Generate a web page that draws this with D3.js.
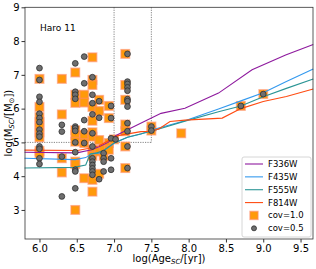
<!DOCTYPE html>
<html><head><meta charset="utf-8">
<script src="https://cdn.jsdelivr.net/npm/d3@7"></script>
<style>body{margin:0;background:#fff}svg{font-family:"DejaVu Sans",sans-serif}</style>
</head><body>
<svg id="c" width="316" height="269"></svg>
<script>
// ---- data ----
const xTicks = [6.0, 6.5, 7.0, 7.5, 8.0, 8.5, 9.0, 9.5];
const yTicks = [3, 4, 5, 6, 7, 8, 9];
const filters = ["F336W", "F435W", "F555W", "F814W"];
const f336Age  = [5.8, 6.5, 6.7, 6.82, 6.92, 7.02, 7.2, 7.5, 7.63, 7.95, 8.4, 8.85, 9.3, 9.67];
const f336Mass = [4.71, 4.69, 4.78, 4.89, 5.0, 5.2, 5.4, 5.72, 5.86, 6.01, 6.46, 7.15, 7.59, 7.9];
const f435Age  = [5.8, 6.48, 6.62, 6.7, 6.82, 6.91, 7.02, 7.18, 7.36, 7.5, 7.95, 8.4, 8.7, 9.0, 9.31, 9.67];
const f435Mass = [4.53, 4.49, 4.55, 4.66, 4.69, 4.83, 5.0, 5.15, 5.25, 5.37, 5.64, 5.99, 6.23, 6.47, 6.8, 7.17];
const f555Age  = [5.8, 6.46, 6.62, 6.68, 6.77, 6.86, 7.0, 7.18, 7.5, 7.95, 8.4, 8.7, 9.0, 9.31, 9.67];
const f555Mass = [4.24, 4.26, 4.33, 4.66, 4.69, 4.76, 4.98, 5.15, 5.33, 5.63, 5.91, 6.08, 6.35, 6.6, 6.88];
const f814Age  = [5.8, 6.51, 6.65, 6.8, 7.05, 7.36, 7.5, 7.6, 7.75, 7.95, 8.45, 8.7, 9.0, 9.31, 9.67];
const f814Mass = [4.77, 4.76, 4.82, 4.9, 5.2, 5.32, 5.33, 5.4, 5.62, 5.66, 5.72, 6.0, 6.21, 6.36, 6.58];
// cov=1.0 clusters (age, mass)
const cov10Age = [6.0,6.0,6.0,6.0,6.0,6.0,6.0,6.0,6.0, 6.3,6.3,6.3,6.3, 6.48,6.48,6.48,6.48,6.48,6.48,6.48,6.48,6.48, 6.6,6.6,6.6,6.6,6.6, 6.71,6.71,6.71,6.71,6.71,6.71,6.71,6.71,6.71,6.71,6.71, 6.8,6.8,6.8,6.8,6.8, 6.86,6.86, 6.93,6.93,6.93,6.93, 7.0, 7.15,7.15,7.15,7.15,7.15,7.15,7.15, 7.5,7.5, 7.9, 8.7, 9.0];
const cov10Mass = [6.88,6.05,5.75,5.6,5.45,5.3,5.15,4.75,4.68, 6.88,5.83,4.53,4.11, 7.07,6.41,6.17,5.36,5.22,5.02,4.43,4.36,3.0, 6.41,6.18,5.22,4.98,3.94, 7.52,6.85,6.70,6.05,5.64,5.3,5.17,4.78,4.6,3.89,3.54, 6.26,5.93,5.07,4.73,4.07, 4.83,4.6, 6.08,5.72,4.98,4.78, 5.09, 7.62,6.70,6.26,5.53,5.33,4.88,4.24, 5.47,5.35, 5.27, 6.08, 6.43];
// cov=0.5 clusters (age, mass)
const cov05Age = [6.0,6.0,6.0,6.0,6.0,6.0,6.0,6.0,6.0,6.0,6.0,6.0,6.0,6.0, 6.3,6.3,6.3,6.3, 6.48,6.48,6.48,6.48,6.48,6.48,6.48,6.48,6.48,6.48,6.48,6.48, 6.6,6.6,6.6,6.6,6.6, 6.71,6.71,6.71,6.71,6.71,6.71,6.71,6.71,6.71,6.71,6.71,6.71, 6.8,6.8,6.8, 6.86,6.86,6.86,6.86, 6.96,6.96,6.96,6.96,6.96, 7.02, 7.18,7.18,7.18,7.18,7.18,7.18,7.18,7.18,7.18,7.18,7.18,7.18, 7.5,7.5, 8.7, 9.0];
const cov05Mass = [7.2,6.85,6.35,6.2,5.85,5.72,5.6,5.38,5.26,5.17,4.88,4.81,4.53,4.36, 5.52,5.32,4.58,3.40, 7.34,6.5,6.41,6.29,5.47,5.42,5.34,5.0,4.71,4.19,4.14,3.64, 7.54,6.75,5.66,5.33,4.98, 6.93,6.41,6.16,5.83,5.27,4.88,4.53,4.43,4.33,4.23,4.14,4.04, 6.22,5.73,3.91, 4.68,4.53,4.43,4.14, 6.08,5.72,5.12,4.53,4.19, 5.09, 7.62,6.80,6.73,6.63,6.53,6.28,6.22,6.06,5.57,5.33,4.88,4.24, 5.47,5.35, 6.08, 6.43];
const boxAge = [7.0, 7.5];
const boxMass = 5;

// ---- layout ----
const svg = d3.select("#c");
const L = 25, R = 313, T = 7.3, B = 239;
const x = d3.scaleLinear().domain([5.806, 9.667]).range([L, R]);
const y = d3.scaleLinear().domain([2.14, 9]).range([B, T]);
const colors = {F336W: "#8e1a9e", F435W: "#3399ee", F555W: "#2b9595", F814W: "#ff4c12"};
const series = {F336W: [f336Age, f336Mass], F435W: [f435Age, f435Mass], F555W: [f555Age, f555Mass], F814W: [f814Age, f814Mass]};

// dotted box
const dot = svg.append("g").attr("stroke", "#777").attr("stroke-width", 0.9).attr("stroke-dasharray", "1.2,1.2").attr("fill", "none");
boxAge.forEach(a => dot.append("line").attr("x1", x(a)).attr("x2", x(a)).attr("y1", y(9)).attr("y2", y(boxMass)));
dot.append("line").attr("x1", x.range()[0]).attr("x2", x(boxAge[1])).attr("y1", y(boxMass)).attr("y2", y(boxMass));

// squares
const s = 8.5;
svg.append("g").selectAll("rect").data(cov10Age.map((a, i) => [a, cov10Mass[i]])).join("rect")
  .attr("x", d => x(d[0]) - s / 2).attr("y", d => y(d[1]) - s / 2).attr("width", s).attr("height", s)
  .attr("fill", "#ff9a0a").attr("stroke", "#ff8a60").attr("stroke-opacity", 0.6).attr("stroke-width", 1.5);

// lines
const line = d3.line().x(d => x(d[0])).y(d => y(d[1]));
filters.forEach(f => {
  const [a, m] = series[f];
  svg.append("path").datum(a.map((v, i) => [v, m[i]])).attr("d", line)
    .attr("fill", "none").attr("stroke", colors[f]).attr("stroke-width", 1.1);
});

// circles
svg.append("g").selectAll("circle").data(cov05Age.map((a, i) => [a, cov05Mass[i]])).join("circle")
  .attr("cx", d => x(d[0])).attr("cy", d => y(d[1])).attr("r", 2.9)
  .attr("fill", "#6e6e6e").attr("stroke", "#2e2e2e").attr("stroke-width", 0.8);

// frame
svg.append("rect").attr("x", L).attr("y", T).attr("width", R - L).attr("height", B - T)
  .attr("fill", "none").attr("stroke", "#333").attr("stroke-width", 0.8);

// axes
const xa = svg.append("g").attr("transform", `translate(0,${B})`)
  .call(d3.axisBottom(x).tickValues(xTicks).tickFormat(d3.format(".1f")).tickSize(3.5).tickPadding(2));
const ya = svg.append("g").attr("transform", `translate(${L},0)`)
  .call(d3.axisLeft(y).tickValues(yTicks).tickFormat(d3.format("d")).tickSize(3.5).tickPadding(2));
[xa, ya].forEach(g => {
  g.select(".domain").remove();
  g.selectAll("text").attr("font-size", 10).attr("fill", "#000").attr("font-family", "DejaVu Sans");
  g.selectAll("line").attr("stroke", "#333");
});

// labels
const xl = svg.append("text").attr("x", (L + R) / 2).attr("y", 262).attr("text-anchor", "middle").attr("font-size", 10);
xl.append("tspan").text("log(Age");
xl.append("tspan").text("SC").attr("font-size", 7).attr("font-style", "italic").attr("dy", 2);
xl.append("tspan").text("/[yr])").attr("dy", -2);
const yl = svg.append("text").attr("transform", `translate(12,${(T + B) / 2}) rotate(-90)`).attr("text-anchor", "middle").attr("font-size", 10);
yl.append("tspan").text("log(M");
yl.append("tspan").text("SC").attr("font-size", 7).attr("font-style", "italic").attr("dy", 2);
yl.append("tspan").text("/[M").attr("dy", -2);
yl.append("tspan").text("⊙").attr("font-size", 7).attr("dy", 2);
yl.append("tspan").text("])").attr("dy", -2);

svg.append("text").attr("x", 40).attr("y", 31).attr("font-size", 9).text("Haro 11");

// legend
const lg = svg.append("g");
lg.append("rect").attr("x", 242).attr("y", 157).attr("width", 69).attr("height", 80).attr("rx", 2)
  .attr("fill", "#fff").attr("fill-opacity", 0.85).attr("stroke", "#ccc").attr("stroke-width", 0.8);
const rowY = d3.scalePoint().domain([...filters, "cov=1.0", "cov=0.5"]).range([164, 228.3]);
filters.forEach(f => {
  lg.append("line").attr("x1", 245).attr("x2", 263).attr("y1", rowY(f)).attr("y2", rowY(f)).attr("stroke", colors[f]).attr("stroke-width", 1.1);
  lg.append("text").attr("x", 268).attr("y", rowY(f) + 3).attr("font-size", 8.5).text(f);
});
lg.append("rect").attr("x", 254 - 4).attr("y", rowY("cov=1.0") - 4).attr("width", 8).attr("height", 8)
  .attr("fill", "#ff9a0a").attr("stroke", "#ff8a60").attr("stroke-opacity", 0.6).attr("stroke-width", 1.5);
lg.append("text").attr("x", 268).attr("y", rowY("cov=1.0") + 3).attr("font-size", 8.5).text("cov=1.0");
lg.append("circle").attr("cx", 254).attr("cy", rowY("cov=0.5")).attr("r", 2.5).attr("fill", "#6e6e6e").attr("stroke", "#2e2e2e").attr("stroke-width", 0.8);
lg.append("text").attr("x", 268).attr("y", rowY("cov=0.5") + 3).attr("font-size", 8.5).text("cov=0.5");
</script>
</body></html>
